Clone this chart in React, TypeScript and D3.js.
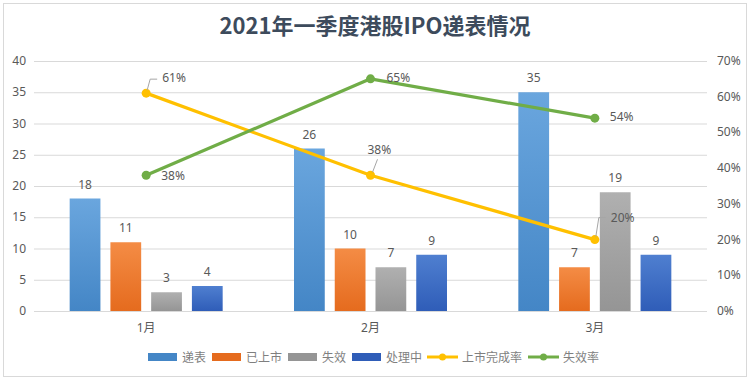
import React from "react";
import * as d3 from "d3";

const months = ["1月", "2月", "3月"];
const barSeries = ["递表", "已上市", "失效", "处理中"];
const filed = [18, 26, 35];
const listed = [11, 10, 7];
const lapsed = [3, 7, 19];
const processing = [4, 9, 9];
const lineSeries = ["上市完成率", "失效率"];
const listRate = [0.61, 0.38, 0.2];
const lapseRate = [0.38, 0.65, 0.54];
const leftTicks = [0, 5, 10, 15, 20, 25, 30, 35, 40];
const rightTicks = [0, 0.1, 0.2, 0.3, 0.4, 0.5, 0.6, 0.7];

const W = 750, H = 380;
const plotL = 34, plotR = 707, plotT = 61, plotB = 311;
const barColors = [
  ["#6AA6DE", "#4486C6"],
  ["#F48C45", "#E56B1E"],
  ["#B0B0B0", "#959595"],
  ["#4F7FD0", "#2F5DB8"],
];
const lineColors = ["#FFC000", "#70AD47"];
const textColor = "#595959";
const font = "'Noto Sans', 'Noto Sans CJK SC', sans-serif";

export default function App() {
  const x0 = d3.scaleBand<string>().domain(months).range([plotL, plotR]).paddingInner(0).paddingOuter(0);
  const groupW = 153;
  const x1 = d3.scaleBand<string>().domain(barSeries).range([0, groupW]).paddingInner(0.245);
  const y = d3.scaleLinear().domain([0, 40]).range([plotB, plotT]);
  const y2 = d3.scaleLinear().domain([0, 0.7]).range([plotB, plotT]);
  const barData = [filed, listed, lapsed, processing];
  const lineData = [listRate, lapseRate];
  const cx = (m: string) => (x0(m) as number) + x0.bandwidth() / 2;
  const line = d3.line<number>().x((_, i) => cx(months[i])).y((v) => y2(v));
  const pct = d3.format(".0%");

  // label layout: [dx, dy(baseline), leader polyline relative pts or null]
  const lineLabelLayout: [number, number, number[][] | null][][] = [
    [
      [16, -11, [[1, -3], [4, -14], [11, -14]]],
      [-3, -21, [[2, -3], [7, -16]]],
      [16, -18, [[1, -3], [4, -22], [11, -22]]],
    ],
    [
      [15, 5, null],
      [16, 3, null],
      [15, 3, null],
    ],
  ];

  const legendItems = [
    { type: "bar", i: 0, x: 148, tx: 182 },
    { type: "bar", i: 1, x: 212, tx: 246 },
    { type: "bar", i: 2, x: 288, tx: 322 },
    { type: "bar", i: 3, x: 352, tx: 386 },
    { type: "line", i: 0, x: 427, tx: 462 },
    { type: "line", i: 1, x: 528, tx: 563 },
  ];
  const legendY = 357;

  return (
    <svg width={W} height={H} style={{ position: "absolute", left: 0, top: 0, background: "#fff" }} fontFamily={font}>
      <defs>
        {barColors.map((c, i) => (
          <linearGradient key={i} id={`g${i}`} x1="0" y1="0" x2="0" y2="1">
            <stop offset="0%" stopColor={c[0]} />
            <stop offset="100%" stopColor={c[1]} />
          </linearGradient>
        ))}
      </defs>
      <rect x={3.5} y={3.5} width={743} height={373} fill="#fff" stroke="#D9D9D9" />
      <text x={375} y={34} textAnchor="middle" fontSize={22} fontWeight="bold" fill="#3D4B5C"
        fontFamily="'Noto Sans CJK SC', 'Noto Sans', sans-serif">2021年一季度港股IPO递表情况</text>

      {leftTicks.map((t) => (
        <g key={t}>
          <line x1={plotL} x2={plotR} y1={y(t) + 0.5} y2={y(t) + 0.5} stroke="#D9D9D9" />
          <text x={26} y={y(t) + 4} textAnchor="end" fontSize={12} fill={textColor}>{t}</text>
        </g>
      ))}
      {rightTicks.map((t) => (
        <text key={t} x={717} y={y2(t) + 4} fontSize={12} fill={textColor}>{pct(t)}</text>
      ))}

      {months.map((m) => (
        <text key={m} x={cx(m)} y={332} textAnchor="middle" fontSize={12} fill={textColor}
          fontFamily="'Noto Sans', 'Noto Sans CJK SC', sans-serif">{m}</text>
      ))}

      {barData.map((vals, si) => (
        <g key={si}>
          {vals.map((v, mi) => {
            const bx = cx(months[mi]) - groupW / 2 + (x1(barSeries[si]) as number);
            return (
              <g key={mi}>
                <rect x={bx} y={y(v)} width={x1.bandwidth()} height={plotB - y(v)} fill={`url(#g${si})`} />
                <text x={bx + x1.bandwidth() / 2} y={y(v) - 10} textAnchor="middle" fontSize={12} fill={textColor}>{v}</text>
              </g>
            );
          })}
        </g>
      ))}

      {lineData.map((vals, li) => (
        <g key={li}>
          <path d={line(vals) as string} fill="none" stroke={lineColors[li]} strokeWidth={3.25} strokeLinejoin="round" />
          {vals.map((v, i) => (
            <circle key={i} cx={cx(months[i])} cy={y2(v)} r={4.5} fill={lineColors[li]} />
          ))}
        </g>
      ))}
      {lineData.map((vals, li) => (
        <g key={li}>
          {vals.map((v, i) => {
            const px = cx(months[i]);
            const py = y2(v);
            const [dx, dy, leader] = lineLabelLayout[li][i];
            return (
              <g key={i}>
                {leader && (
                  <polyline points={leader.map((p) => `${px + p[0]},${py + p[1]}`).join(" ")} fill="none" stroke="#A6A6A6" strokeWidth={1} />
                )}
                <text x={px + dx} y={py + dy} fontSize={12} fill={textColor}>{pct(v)}</text>
              </g>
            );
          })}
        </g>
      ))}

      {legendItems.map((it, k) => (
        <g key={k}>
          {it.type === "bar" ? (
            <rect x={it.x} y={legendY - 4} width={29} height={8} fill={barColors[it.i][1]} />
          ) : (
            <g>
              <line x1={it.x} x2={it.x + 31} y1={legendY} y2={legendY} stroke={lineColors[it.i]} strokeWidth={3} />
              <circle cx={it.x + 15.5} cy={legendY} r={3.5} fill={lineColors[it.i]} />
            </g>
          )}
          <text x={it.tx} y={legendY + 4.5} fontSize={12} fill="#7F7F7F"
            fontFamily="'Noto Sans CJK SC', sans-serif">
            {it.type === "bar" ? barSeries[it.i] : lineSeries[it.i]}
          </text>
        </g>
      ))}
    </svg>
  );
}
